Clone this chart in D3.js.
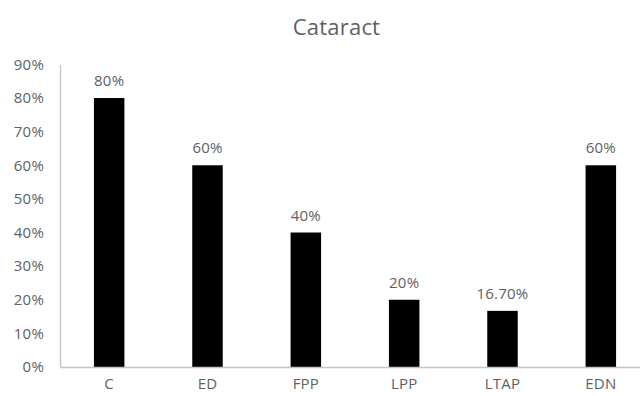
<!DOCTYPE html>
<html>
<head>
<meta charset="utf-8">
<script src="https://cdn.jsdelivr.net/npm/d3@7"></script>
<style>
  html, body { margin: 0; padding: 0; background: #fff; }
  svg { display: block; font-family: "Open Sans", Lato, sans-serif; }
</style>
</head>
<body>
<svg id="chart" width="640" height="396"></svg>
<script>
// Cataract share per category
const categories = ["C", "ED", "FPP", "LPP", "LTAP", "EDN"];
const values = [0.80, 0.60, 0.40, 0.20, 0.167, 0.60];
const valueLabels = ["80%", "60%", "40%", "20%", "16.70%", "60%"];
const yTicks = [0, 0.1, 0.2, 0.3, 0.4, 0.5, 0.6, 0.7, 0.8, 0.9];
const title = "Cataract";

const svg = d3.select("#chart");
const margin = { left: 60, top: 64.4, bottom: 29 };
const plotRight = 650;      // plot runs slightly past the right edge
const height = 396;
const fontFamily = "'Open Sans', Lato, sans-serif";

const x = d3.scaleBand()
  .domain(categories)
  .range([margin.left, plotRight])
  .paddingInner(0.69)
  .paddingOuter(0.345);

const y = d3.scaleLinear()
  .domain([0, 0.9])
  .range([height - margin.bottom, margin.top]);

const textColor = "#5f5f5f";
const axisColor = "#c4c4c4";

// title
svg.append("text")
  .attr("x", 336.5)
  .attr("y", 35)
  .attr("text-anchor", "middle")
  .attr("fill", textColor)
  .attr("font-size", 22)
  .attr("letter-spacing", 0.2)
  .text(title);

// y axis
const yAxis = svg.append("g")
  .attr("transform", `translate(${margin.left},0)`)
  .call(d3.axisLeft(y).tickValues(yTicks).tickFormat(d3.format(".0%")).tickSize(0).tickPadding(16));
yAxis.select(".domain").attr("stroke", axisColor).attr("stroke-width", 1.3);
yAxis.selectAll("text")
  .attr("fill", textColor)
  .attr("font-size", 15)
  .attr("letter-spacing", 0.2)
  .attr("font-family", fontFamily);

// bars
svg.append("g")
  .selectAll("rect")
  .data(categories)
  .join("rect")
  .attr("x", d => x(d))
  .attr("y", (d, i) => y(values[i]))
  .attr("width", x.bandwidth())
  .attr("height", (d, i) => y(0) - y(values[i]))
  .attr("fill", "#000");

// x axis
const xAxis = svg.append("g")
  .attr("transform", `translate(0,${y(0)})`)
  .call(d3.axisBottom(x).tickSize(0).tickPadding(11));
xAxis.select(".domain").attr("stroke", axisColor).attr("stroke-width", 1.3);
xAxis.selectAll("text")
  .attr("fill", textColor)
  .attr("font-size", 15)
  .attr("letter-spacing", 0.2)
  .attr("font-family", fontFamily);

// value labels
svg.append("g")
  .selectAll("text")
  .data(categories)
  .join("text")
  .attr("x", d => x(d) + x.bandwidth() / 2)
  .attr("y", (d, i) => y(values[i]) - 12)
  .attr("text-anchor", "middle")
  .attr("fill", textColor)
  .attr("font-size", 15)
  .attr("letter-spacing", 0.2)
  .text((d, i) => valueLabels[i]);
</script>
</body>
</html>
